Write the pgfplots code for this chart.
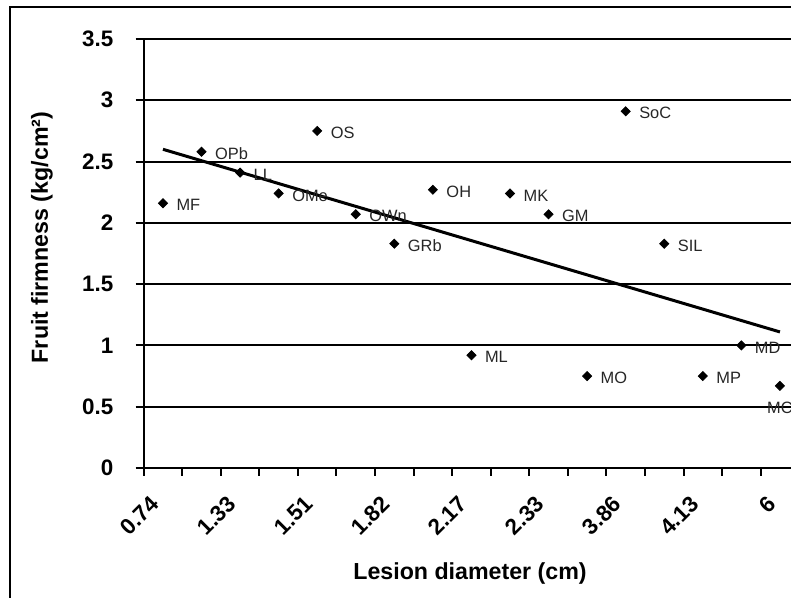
\documentclass[border=0pt]{standalone}
\usepackage{pgfplots}
\usepackage{pgfplotstable}
\pgfplotsset{compat=1.18}
\usepackage{fontspec}
\setmainfont{Liberation Sans}
\pgfplotstableread{
x y label
1 2.16 MF
2 2.58 OPb
3 2.41 LL
4 2.24 OMe
5 2.75 OS
6 2.07 OWn
7 1.83 GRb
8 2.27 OH
9 0.92 ML
10 2.24 MK
11 2.07 GM
12 0.75 MO
13 2.91 SoC
14 1.83 SIL
15 0.75 MP
16 1.00 MD
}\ffdata
\pgfplotstableread{
x y label
17 0.67 MC
}\mcdata
\begin{document}
\begin{tikzpicture}
\useasboundingbox (0,0) rectangle (395.5pt,299pt);
\draw[line width=0.6pt] (5pt,-50pt) rectangle (450pt,295.5pt);
\begin{axis}[
  at={(71.85pt,65pt)}, anchor=south west,
  scale only axis, width=327.75pt, height=214.5pt,
  xmin=0.5, xmax=17.5, ymin=0, ymax=3.5,
  axis x line*=bottom, axis y line*=left,
  axis line style={line width=1.2pt, -},
  ytick={0,0.5,...,3.5}, yticklabels={0,0.5,1,1.5,2,2.5,3,3.5},
  ymajorgrids, major grid style={line width=1pt, black},
  xtick={0.5,1.5,...,17.5}, xticklabels={},
  extra x ticks={1,3,...,17},
  extra x tick labels={0.74,1.33,1.51,1.82,2.17,2.33,3.86,4.13,6},
  extra x tick style={major tick length=0pt, xmajorgrids=false,
    xticklabel style={rotate=45, anchor=north east, inner sep=0pt, xshift=-14.1pt, yshift=-4.2pt}},
  tick align=outside,
  major tick length=4pt,
  every tick/.style={black, line width=1pt},
  tick label style={font=\bfseries\fontsize{11.2}{13}\selectfont},
  /pgf/number format/assume math mode=true,
  yticklabel style={anchor=east, inner sep=0pt, xshift=-11pt},
  clip=false,
]
\addplot[line width=1.5pt, black] coordinates {(1,2.60) (17,1.11)};
\addplot[only marks, mark=square*, mark size=1.6pt, mark options={rotate=45, fill=black, draw=black},
  nodes near coords, point meta=explicit symbolic,
  nodes near coords style={font=\fontsize{8.2}{10}\selectfont, anchor=west, inner sep=0pt, xshift=6.6pt, yshift=-1pt, text=black!85}]
  table[x=x, y=y, meta=label] {\ffdata};
\addplot[only marks, mark=square*, mark size=1.6pt, mark options={rotate=45, fill=black, draw=black},
  nodes near coords, point meta=explicit symbolic,
  nodes near coords style={font=\fontsize{8.2}{10}\selectfont, anchor=north, inner sep=0pt, yshift=-7.8pt, text=black!85}]
  table[x=x, y=y, meta=label] {\mcdata};
\end{axis}
\node[font=\bfseries\fontsize{11.6}{14}\selectfont] at (235pt,12pt) {Lesion diameter (cm)};
\node[rotate=90, font=\bfseries\fontsize{11.6}{14}\selectfont] at (21pt,180.25pt) {Fruit firmness (kg/cm²)};
\end{tikzpicture}
\end{document}
